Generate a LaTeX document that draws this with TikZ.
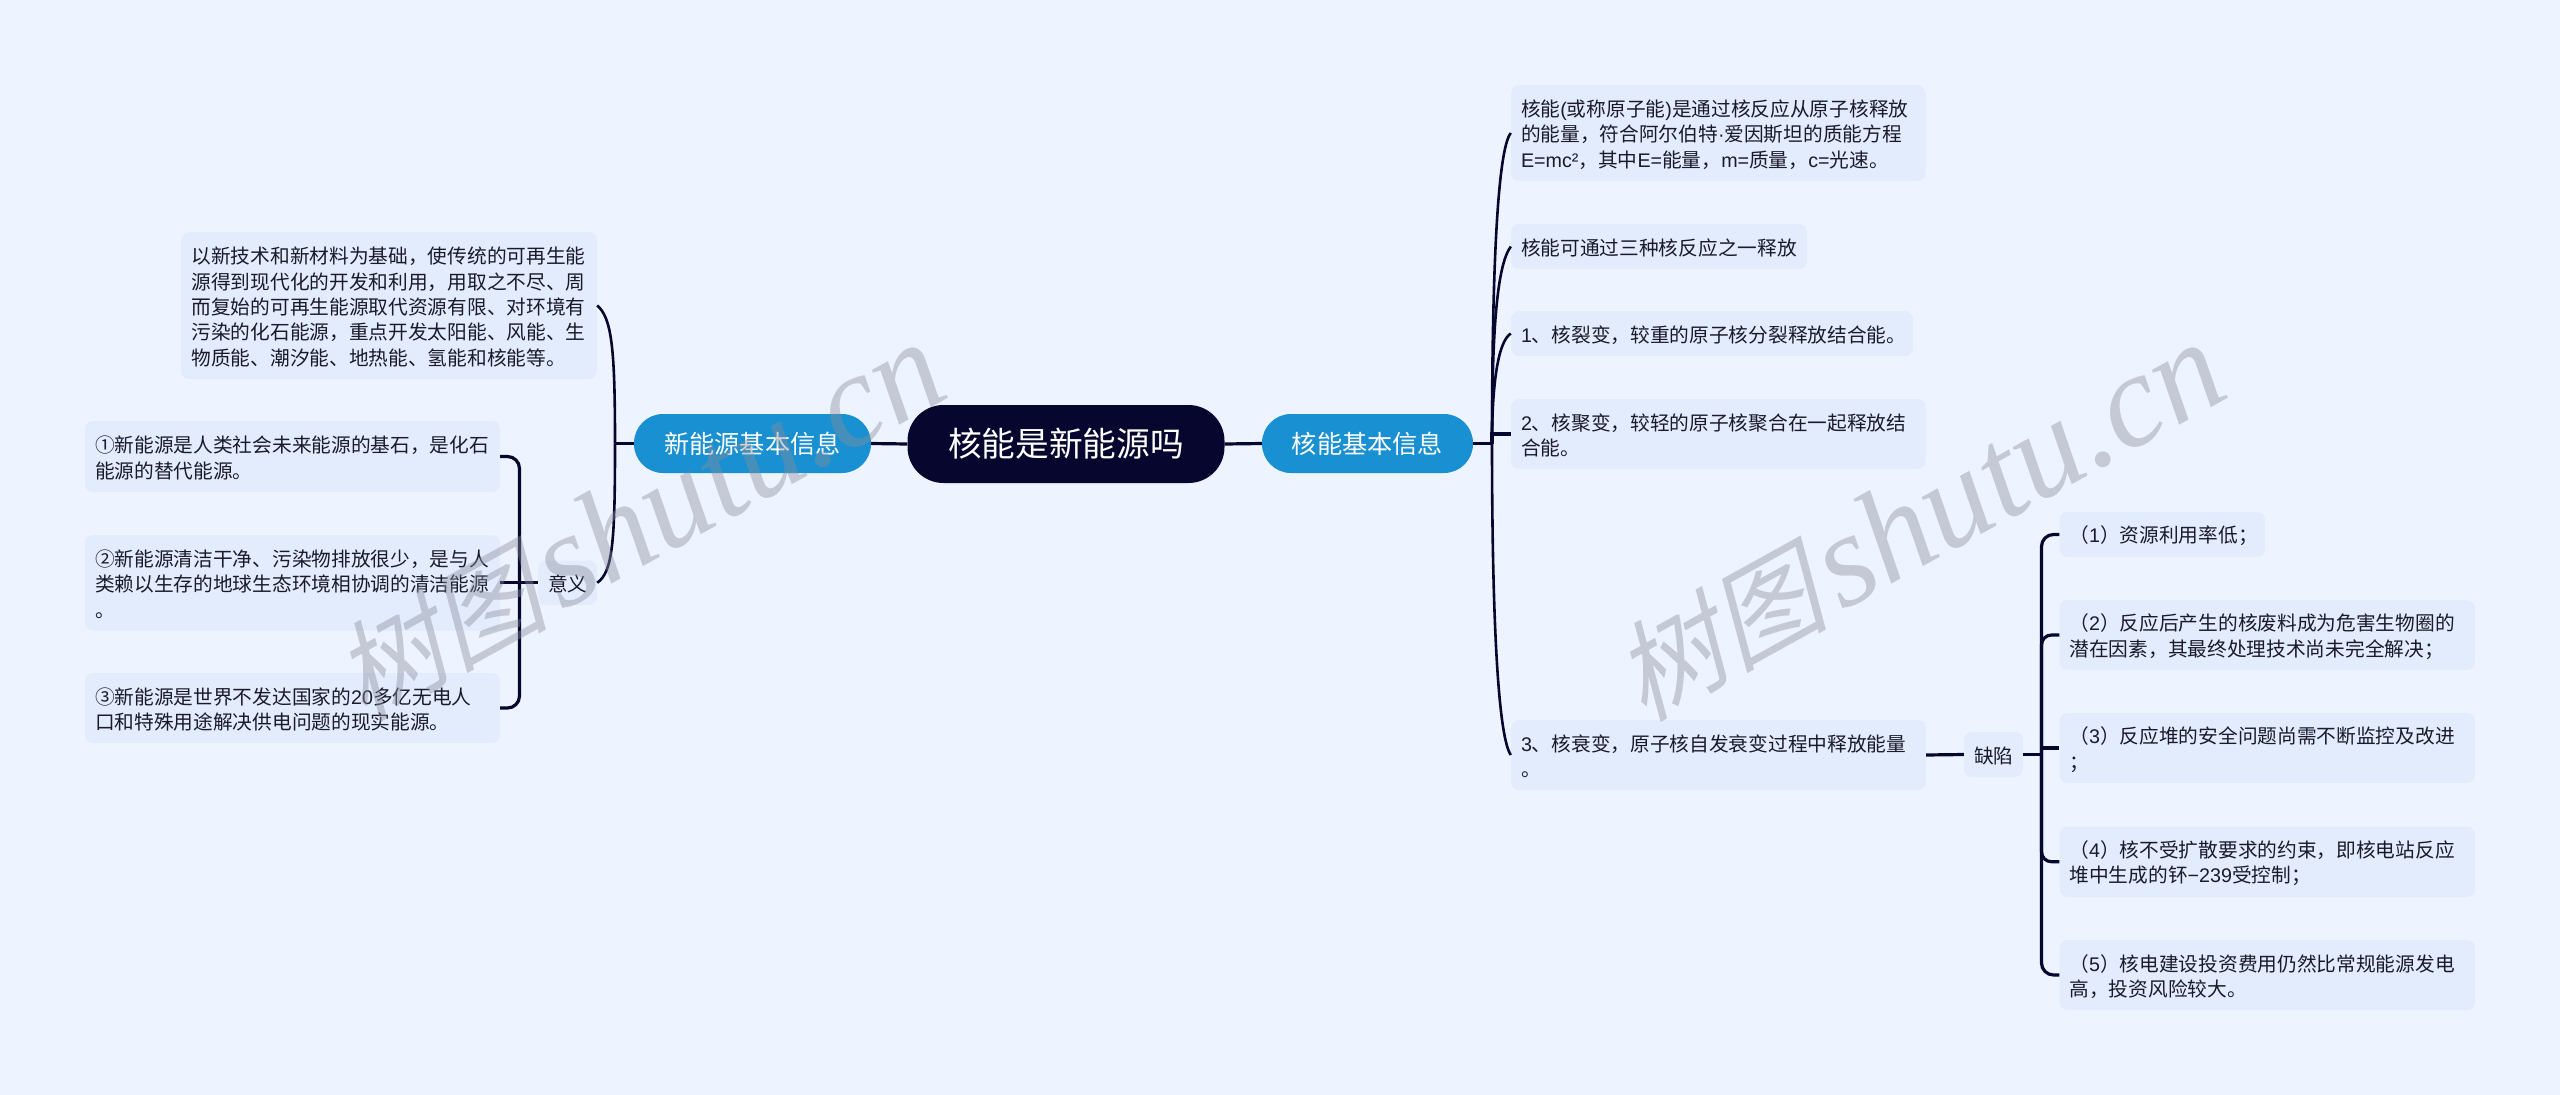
\documentclass[tikz,border=0pt]{standalone}
\usepackage{fontspec}
\setmainfont{Noto Sans CJK SC}
\newfontfamily\wmcjk[FakeSlant=0.25]{Noto Sans CJK SC}
\newfontfamily\wmlat{Liberation Serif}[ItalicFont={Liberation Serif Italic}]
\newfontfamily\lsf{Liberation Sans}
\newcommand{\ltn}[1]{{\lsf #1}}
\newcommand{\wmtext}{{\wmcjk\fontsize{108}{130}\selectfont 树图}\hspace{12pt}{\wmlat\itshape\fontsize{133}{130}\selectfont shutu.cn}}
\definecolor{bgc}{HTML}{EEF4FF}
\definecolor{boxc}{HTML}{E3ECFD}
\definecolor{bluec}{HTML}{1890D2}
\definecolor{rootc}{HTML}{07062F}
\definecolor{linec}{HTML}{07062F}
\definecolor{txtc}{HTML}{1A1A2A}
\definecolor{wmc}{HTML}{8A8F9C}
\tikzset{x=1pt,y=-1pt,
 leaf/.style={fill=boxc,rounded corners=8pt,inner xsep=0pt,inner ysep=0pt,text=txtc,anchor=center,align=left,
   font=\fontsize{19.7}{25.4}\selectfont},
 topic/.style={fill=bluec,rounded corners=29pt,text=white,inner sep=0pt,font=\fontsize{25.2}{30}\selectfont},
 conn/.style={draw=linec,line width=2.6pt},
 stub/.style={draw=linec,line width=3.2pt},
 wmark/.style={text=wmc,opacity=.42,rotate=29,anchor=center,inner sep=0pt}}
\newcommand{\leafnode}[7]{% name, x1, y1, x2, y2, pad, text
 \pgfmathsetlengthmacro{\tw}{#4-#2-2*#6}%
 \pgfmathsetlengthmacro{\bw}{#4-#2}%
 \pgfmathsetlengthmacro{\bh}{#5-#3}%
 \node[leaf,minimum width=\bw,minimum height=\bh] (#1) at ({(#2+#4)/2},{(#3+#5)/2}) {\begin{minipage}{\tw}\vspace{3pt}\raggedright\fontsize{19.7}{25.4}\selectfont #7\end{minipage}};}
\begin{document}
\begin{tikzpicture}
\fill[bgc] (0,0) rectangle (2560,1095);
\useasboundingbox (0,0) rectangle (2560,1095);
% root and topics
\node[fill=rootc,rounded corners=36pt,text=white,inner sep=0pt,minimum width=317pt,minimum height=78pt,font=\fontsize{33.7}{38}\selectfont] (root) at (1066,444) {核能是新能源吗};
\node[topic,minimum width=237pt,minimum height=59pt] (lt) at (752.5,443.5) {新能源基本信息};
\node[topic,minimum width=211pt,minimum height=59pt] (rt) at (1367.5,443.5) {核能基本信息};
% left leaves
\leafnode{l1}{181}{232}{597}{379}{10.5}{以新技术和新材料为基础，使传统的可再生能\\源得到现代化的开发和利用，用取之不尽、周\\而复始的可再生能源取代资源有限、对环境有\\污染的化石能源，重点开发太阳能、风能、生\\物质能、潮汐能、地热能、氢能和核能等。}
\leafnode{yy}{538}{560.5}{597}{605}{10}{意义}
\leafnode{a1}{85}{421}{500}{492}{10}{①新能源是人类社会未来能源的基石，是化石\\能源的替代能源。}
\leafnode{a2}{85}{535}{500}{630.5}{10}{②新能源清洁干净、污染物排放很少，是与人\\类赖以生存的地球生态环境相协调的清洁能源\\。}
\leafnode{a3}{85}{673}{500}{743}{10}{③新能源是世界不发达国家的\ltn{20}多亿无电人\\口和特殊用途解决供电问题的现实能源。}
% right leaves
\leafnode{r1}{1511}{85}{1925.5}{181}{10}{核能\ltn{(}或称原子能\ltn{)}是通过核反应从原子核释放\\的能量，符合阿尔伯特\ltn{·}爱因斯坦的质能方程\\\ltn{E=mc²}，其中\ltn{E=}能量，\ltn{m=}质量，\ltn{c=}光速。}
\leafnode{r2}{1511}{224}{1807}{269}{10}{核能可通过三种核反应之一释放}
\leafnode{r3}{1511}{311}{1913}{356}{10}{\ltn{1}、核裂变，较重的原子核分裂释放结合能。}
\leafnode{r4}{1511}{399}{1925.5}{469}{10}{\ltn{2}、核聚变，较轻的原子核聚合在一起释放结\\合能。}
\leafnode{r5}{1511}{720}{1926}{790}{10}{\ltn{3}、核衰变，原子核自发衰变过程中释放能量\\。}
\leafnode{qx}{1964}{732}{2023}{777}{10}{缺陷}
\leafnode{q1}{2059.5}{512}{2265}{557}{10}{（\ltn{1}）资源利用率低；}
\leafnode{q2}{2059.5}{600}{2475}{670}{10}{（\ltn{2}）反应后产生的核废料成为危害生物圈的\\潜在因素，其最终处理技术尚未完全解决；}
\leafnode{q3}{2059.5}{713}{2475}{783}{10}{（\ltn{3}）反应堆的安全问题尚需不断监控及改进\\；}
\leafnode{q4}{2059.5}{826.5}{2475}{897}{10}{（\ltn{4}）核不受扩散要求的约束，即核电站反应\\堆中生成的钚\ltn{−239}受控制；}
\leafnode{q5}{2059.5}{940}{2475}{1010}{10}{（\ltn{5}）核电建设投资费用仍然比常规能源发电\\高，投资风险较大。}
% connectors
\coordinate (lj) at (615,443.5);
\coordinate (rj) at (1492,443.5);
\coordinate (bl) at (519.5,582.75);
\coordinate (br) at (2041.5,754.5);
\draw[stub] (root.west) -- (lt.east);
\draw[stub] (root.east) -- (rt.west);
\draw[stub] (lt.west) -- (lj);
\draw[stub] (rt.east) -- (rj);
\draw[conn] (lj) .. controls (615,350) and (612,318) .. (l1.east);
\draw[conn] (lj) .. controls (615,540) and (613,572) .. (yy.east);
\draw[conn] (rj) .. controls (1492,280) and (1497,150) .. (r1.west);
\draw[conn] (rj) .. controls (1492,330) and (1497,265) .. (r2.west);
\draw[conn] (rj) .. controls (1492,390) and (1497,342) .. (r3.west);
\draw[stub] (rj) -- (1492,434) -- (r4.west);
\draw[conn] (rj) .. controls (1492,600) and (1497,735) .. (r5.west);
\draw[stub,rounded corners=12pt] (a1.east) -| (bl) |- (a3.east);
\draw[stub] (yy.west) -- (a2.east);
\draw[stub] (r5.east) -- (qx.west);
\draw[stub] (qx.east) -- (br);
\draw[stub,rounded corners=12pt] (q1.west) -| (br) |- (q5.west);
\draw[stub,rounded corners=10pt] (br) |- (q2.west);
\draw[stub,rounded corners=10pt] (br) |- (q4.west);
\draw[stub] (2041.5,748) -- (q3.west);
% watermark
\node[wmark] (w1) at (638,522) {\wmtext};
\node[wmark] (w2) at (1918,522) {\wmtext};
\end{tikzpicture}
\end{document}
